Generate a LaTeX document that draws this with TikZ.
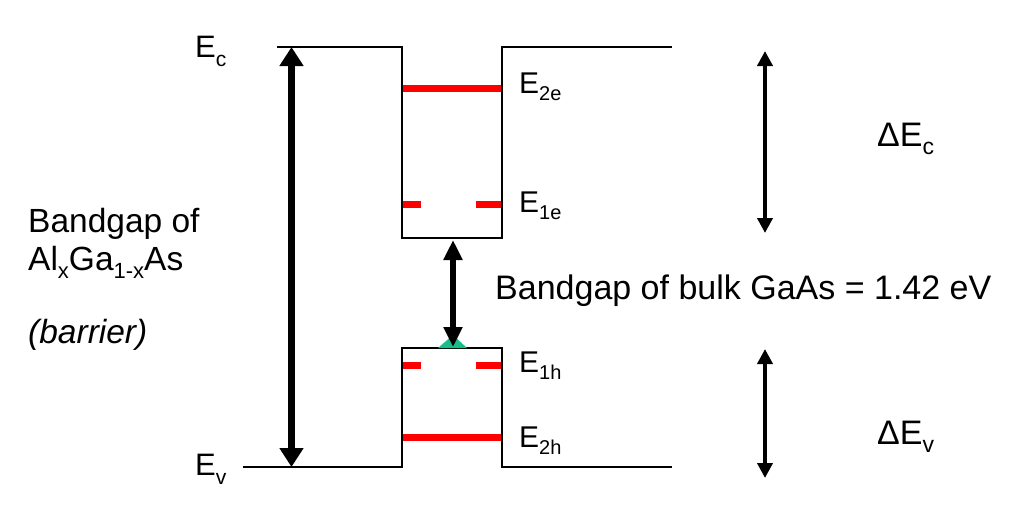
\documentclass[tikz,border=0pt]{standalone}
\usepackage{fontspec}
\setmainfont{Liberation Sans}
\usetikzlibrary{arrows.meta}
\newcommand\lowtxt[3]{\raisebox{-#2pt}{\fontsize{#1}{#1}\selectfont #3}}
\tikzset{
  band/.style={line width=2pt, black, line join=miter},
  level/.style={line width=7pt, red},
  lbl/.style={inner sep=0pt, anchor=base west},
  bigarrow/.style={line width=6.5pt, {Triangle[length=19pt,width=23pt]}-{Triangle[length=19pt,width=23pt]}},
  midarrow/.style={line width=6pt, {Triangle[length=20pt,width=18pt]}-{Triangle[length=20pt,width=18pt]}},
  offarrow/.style={line width=4pt, {Triangle[length=15pt,width=15pt]}-{Triangle[length=15pt,width=15pt]}},
}
\begin{document}
\begin{tikzpicture}[x=1pt,y=-1pt]
\useasboundingbox (0,0) rectangle (1022,506);
% band edges
\draw[band] (277,47) -- (402,47) -- (402,238) -- (502,238) -- (502,47) -- (672,47);
\draw[band] (243,467) -- (402,467) -- (402,348) -- (502,348) -- (502,467) -- (672,467);
% quantized levels
\draw[level] (403,88) -- (501,88);
\draw[level] (403,204) -- (421,204);
\draw[level] (476,204) -- (501,204);
\draw[level] (403,365.5) -- (421,365.5);
\draw[level] (476,365.5) -- (501,365.5);
\draw[level] (403,437) -- (501,437);
% arrow end points
\coordinate (bgT) at (291.5,47);
\coordinate (bgB) at (291.5,467);
\coordinate (mT) at (453,240);
\coordinate (mB) at (453,347);
\coordinate (cT) at (765,51);
\coordinate (cB) at (765,233);
\coordinate (vT) at (765,349);
\coordinate (vB) at (765,478);
% teal mark under the arrow tip
\fill[fill={rgb,255:red,26;green,188;blue,140}] (438,348) -- (453,335) -- (467,348) -- cycle;
\draw[bigarrow] (bgT) -- (bgB);
\draw[midarrow] (mT) -- (mB);
\draw[offarrow] (cT) -- (cB);
\draw[offarrow] (vT) -- (vB);
% labels
\node[lbl, font=\fontsize{31}{31}\selectfont] (Ec) at (195,57) {E\lowtxt{21}{9}{c}};
\node[lbl, font=\fontsize{31}{31}\selectfont] (Ev) at (195,475) {E\lowtxt{21}{9}{v}};
\node[lbl, font=\fontsize{30}{30}\selectfont] (E2e) at (519,93) {E\lowtxt{20}{7}{2e}};
\node[lbl, font=\fontsize{30}{30}\selectfont] (E1e) at (519,212) {E\lowtxt{20}{7}{1e}};
\node[lbl, font=\fontsize{30}{30}\selectfont] (E1h) at (519,372) {E\lowtxt{20}{7}{1h}};
\node[lbl, font=\fontsize{30}{30}\selectfont] (E2h) at (519,447) {E\lowtxt{20}{7}{2h}};
\node[lbl, font=\fontsize{34}{34}\selectfont] (dEc) at (877,146) {\symbol{"0394}E\lowtxt{23}{8}{c}};
\node[lbl, font=\fontsize{34}{34}\selectfont] (dEv) at (877,444) {\symbol{"0394}E\lowtxt{23}{8}{v}};
\node[lbl, font=\fontsize{34}{34}\selectfont] (bulk) at (495,299) {Bandgap of bulk GaAs = 1.42 eV};
\node[lbl, font=\fontsize{33.5}{33.5}\selectfont] (bg1) at (28,232) {Bandgap of};
\node[lbl, font=\fontsize{33.5}{33.5}\selectfont] (bg2) at (28,270) {Al\lowtxt{22}{8}{x}Ga\lowtxt{22}{8}{1-x}As};
\node[lbl, font=\fontsize{33.5}{33.5}\selectfont\itshape] (bg3) at (28,343) {(barrier)};
\end{tikzpicture}
\end{document}
